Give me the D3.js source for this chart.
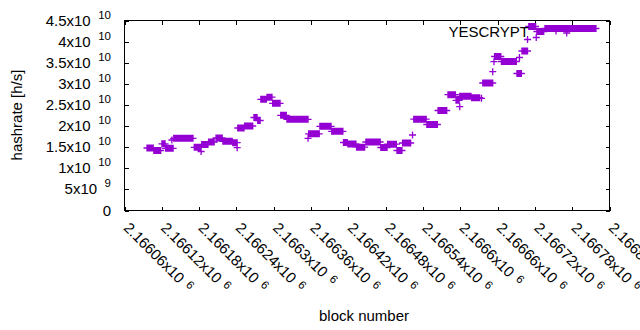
<!DOCTYPE html>
<html>
<head>
<meta charset="utf-8">
<style>
  body { margin: 0; background: #fff; }
  svg text { font-family: "Liberation Sans", Arial, sans-serif; fill: #000; }
  .tick line { stroke: #000; }
</style>
</head>
<body>
<script src="https://cdnjs.cloudflare.com/ajax/libs/d3/7.8.5/d3.min.js"></script>
<script>
// hashrate estimate is flat over runs of blocks (rate in 1e9 h/s)
var runStart = [2166097, 2166108, 2166121, 2166127, 2166140, 2166173, 2166185, 2166196, 2166208, 2166219,
                2166235, 2166243, 2166254, 2166269, 2166275, 2166280, 2166290, 2166299, 2166312, 2166322,
                2166357, 2166375, 2166394, 2166413, 2166420, 2166434, 2166449, 2166473, 2166484, 2166499,
                2166508, 2166526, 2166547, 2166565, 2166581, 2166594, 2166600, 2166619, 2166637, 2166656,
                2166667, 2166692, 2166700, 2166711, 2166724, 2166737];
var runEnd   = [2166107, 2166119, 2166126, 2166139, 2166171, 2166184, 2166195, 2166205, 2166218, 2166234,
                2166242, 2166253, 2166267, 2166274, 2166279, 2166289, 2166298, 2166311, 2166321, 2166356,
                2166374, 2166393, 2166412, 2166419, 2166433, 2166447, 2166472, 2166483, 2166498, 2166507,
                2166521, 2166546, 2166564, 2166579, 2166593, 2166599, 2166618, 2166632, 2166653, 2166666,
                2166691, 2166699, 2166709, 2166722, 2166735, 2166819];
var runRate  = [14.68, 14.09, 15.68, 14.61, 16.98, 14.85, 15.51, 16.10, 17.05, 16.27,
                15.94, 19.42, 19.89, 21.91, 21.20, 26.22, 26.72, 25.27, 22.43, 21.48,
                18.05, 19.82, 18.64, 15.99, 15.63, 14.87, 16.11, 14.80, 15.58, 14.09,
                15.87, 21.51, 20.25, 23.57, 27.31, 25.98, 26.93, 26.60, 30.08, 36.36,
                35.17, 32.33, 37.66, 43.46, 42.28, 42.99];

// single scattered estimates
var loneBlock = [2166137, 2166184, 2166242, 2166356, 2166524, 2166600, 2166635, 2166653, 2166655, 2166696, 2166709, 2166723, 2166772];
var loneRate  = [16.58, 13.86, 14.76, 16.98, 17.76, 24.47, 26.46, 32.75, 35.12, 36.12, 40.38, 40.86, 41.92];

var xTicks = [2166060, 2166120, 2166180, 2166240, 2166300, 2166360, 2166420, 2166480,
              2166540, 2166600, 2166660, 2166720, 2166780, 2166840];
var yTicks = [0, 5e9, 1e10, 1.5e10, 2e10, 2.5e10, 3e10, 3.5e10, 4e10, 4.5e10];

var seriesName = "YESCRYPT";
var color = "#9400d3";

var width = 640, height = 330;
var plotL = 124, plotR = 609, plotT = 20, plotB = 210;

var points = [];
runStart.forEach(function(s, i) {
  for (var b = s; b <= runEnd[i]; b++) points.push({ block: b, rate: runRate[i] * 1e9 });
});
loneBlock.forEach(function(b, i) { points.push({ block: b, rate: loneRate[i] * 1e9 }); });

var svg = d3.select("body").append("svg")
    .attr("width", width)
    .attr("height", height);

var x = d3.scaleLinear().domain([2166060, 2166840]).range([plotL, plotR]);
var y = d3.scaleLinear().domain([0, 4.5e10]).range([plotB, plotT]);

// ticks on all four sides, pointing inward
function addAxis(axis, tx, ty) {
  var g = svg.append("g")
      .attr("transform", "translate(" + tx + "," + ty + ")")
      .attr("shape-rendering", "crispEdges")
      .call(axis);
  g.select(".domain").remove();
  g.selectAll("text").remove();
  return g;
}
addAxis(d3.axisBottom(x).tickValues(xTicks).tickSize(-4).tickFormat(""), 0.5, plotB + 0.5);
addAxis(d3.axisTop(x).tickValues(xTicks).tickSize(-4).tickFormat(""), 0.5, plotT + 0.5);
addAxis(d3.axisLeft(y).tickValues(yTicks).tickSize(-4).tickFormat(""), plotL + 0.5, 0.5);
addAxis(d3.axisRight(y).tickValues(yTicks).tickSize(-4).tickFormat(""), plotR + 0.5, 0.5);

svg.append("rect")
    .attr("x", plotL + 0.5).attr("y", plotT + 0.5)
    .attr("width", plotR - plotL).attr("height", plotB - plotT)
    .attr("fill", "none").attr("stroke", "#000")
    .attr("shape-rendering", "crispEdges");

// y tick labels like 1.5x10^10
yTicks.forEach(function(v) {
  var t = svg.append("text")
      .attr("x", 111).attr("y", y(v) + 5.5)
      .attr("text-anchor", "end")
      .style("font-size", "15px");
  if (v === 0) { t.text("0"); return; }
  var e = Math.floor(Math.log10(v));
  var m = +(v / Math.pow(10, e)).toFixed(1);
  t.append("tspan").text(m + "x10");
  t.append("tspan").attr("dx", 7.5).attr("dy", -7).style("font-size", "11.5px").text(e);
});

// x tick labels, rotated
xTicks.forEach(function(v) {
  var t = svg.append("text")
      .attr("transform", "translate(" + (x(v) + 2.5) + "," + 225 + ") rotate(45)")
      .attr("dy", "0.35em")
      .style("font-size", "15px");
  t.append("tspan").text(+(v / 1e6).toFixed(5) + "x10");
  t.append("tspan").attr("dx", 6).attr("dy", -4).style("font-size", "11.5px").text("6");
});

svg.append("text")
    .attr("transform", "translate(22," + ((plotT + plotB) / 2) + ") rotate(-90)")
    .attr("text-anchor", "middle")
    .style("font-size", "15px")
    .text("hashrate [h/s]");

svg.append("text")
    .attr("x", 364).attr("y", 321)
    .attr("text-anchor", "middle")
    .style("font-size", "15px")
    .text("block number");

function plus(px, py) {
  return "M" + (px - 3.5) + "," + py + "H" + (px + 3.5) + "M" + px + "," + (py - 3.5) + "V" + (py + 3.5);
}

svg.append("path")
    .attr("d", points.map(function(d) { return plus(x(d.block), y(d.rate)); }).join(""))
    .attr("fill", "none")
    .attr("stroke", color)
    .attr("stroke-width", 1.3);

// key
svg.append("text")
    .attr("x", 529).attr("y", 37)
    .attr("text-anchor", "end")
    .style("font-size", "15px")
    .text(seriesName);
svg.append("path")
    .attr("d", plus(556, 31))
    .attr("fill", "none")
    .attr("stroke", color)
    .attr("stroke-width", 1.3);
</script>
</body>
</html>
